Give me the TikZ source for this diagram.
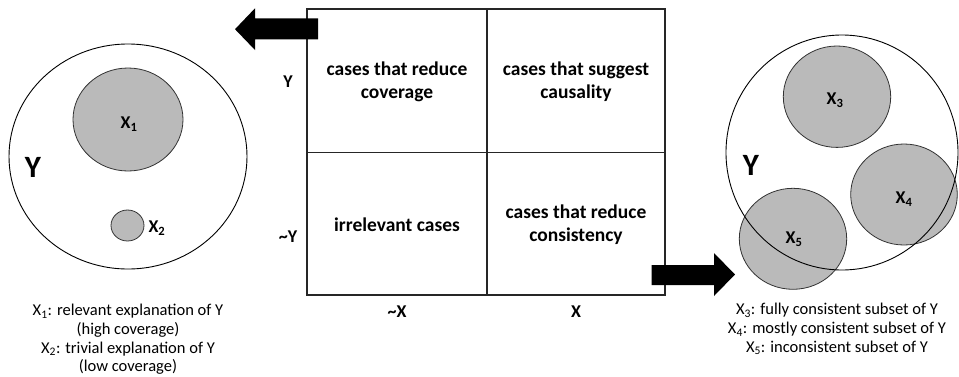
\documentclass[tikz,border=0pt]{standalone}
\usepackage{fontspec}
\setmainfont{Carlito}
\usetikzlibrary{shapes.geometric}
\tikzset{
  cell/.style={font=\bfseries\fontsize{19.5}{23}\selectfont, align=center},
  axis/.style={font=\bfseries\fontsize{18}{20}\selectfont},
  setlbl/.style={font=\bfseries\fontsize{18}{20}\selectfont},
  bigY/.style={font=\bfseries\fontsize{31}{34}\selectfont},
  caption/.style={font=\fontsize{16.5}{18.6}\selectfont, align=center},
  sub/.style={draw=black!80, line width=0.8pt, fill=black!27},
  outer/.style={draw=black, line width=0.9pt},
  blockarrow/.style={fill=black, draw=none},
  gridline/.style={draw=black!85, line width=1.2pt}
}
\begin{document}
\begin{tikzpicture}[x=1pt,y=-1pt]
\useasboundingbox (0,0) rectangle (959,376);
% grid
\draw[gridline] (307,9) rectangle (665,295);
\draw[gridline] (487,9) -- (487,295);
\draw[gridline] (307,152.5) -- (665,152.5);
\node[cell] (tl) at (397,81.5) {cases that reduce\\coverage};
\node[cell] (tr) at (576,81.5) {cases that suggest\\causality};
\node[cell] (bl) at (397,225) {irrelevant cases};
\node[cell] (br) at (576,225) {cases that reduce\\consistency};
\node[axis] (ry) at (288,82) {Y};
\node[axis] (rny) at (288,237) {\textasciitilde Y};
\node[axis] (cnx) at (397,312) {\textasciitilde X};
\node[axis] (cx) at (576,312) {X};
% arrows
\fill[blockarrow] (318,18.3) -- (255,18.3) -- (255,8.3) -- (235,29.2) -- (255,50) -- (255,39.3) -- (318,39.3) -- cycle;
\fill[blockarrow] (651.7,265) -- (714,265) -- (714,253) -- (735,274.5) -- (714,296) -- (714,285) -- (651.7,285) -- cycle;
% left diagram
\draw[outer] (128,156.5) ellipse (119 and 112.5);
\draw[sub] (128,119.5) ellipse (55 and 51.5);
\draw[sub] (127.5,225.5) ellipse (16.5 and 15.5);
\node[setlbl] (x1) at (129,124) {X\textsubscript{1}};
\node[setlbl, anchor=west] (x2) at (145,228) {X\textsubscript{2}};
\node[bigY] (ly) at (33,167) {Y};
\node[caption, anchor=north] (lcap) at (128,301) {X\textsubscript{1}: relevant explanation of Y\\(high coverage)\\X\textsubscript{2}: trivial explanation of Y\\(low coverage)};
% right diagram
\draw[sub] (837,96.7) ellipse (53.7 and 50.7);
\draw[sub] (904,194.5) ellipse (53.3 and 50.5);
\draw[sub] (793,238.8) ellipse (53.7 and 50.5);
\draw[outer] (842,152.5) ellipse (116 and 117.5);
\node[setlbl] (x3) at (835,100) {X\textsubscript{3}};
\node[setlbl] (x4) at (904,199) {X\textsubscript{4}};
\node[setlbl] (x5) at (794,239) {X\textsubscript{5}};
\node[bigY] (ry2) at (751,165) {Y};
\node[caption, anchor=north] (rcap) at (837,300) {X\textsubscript{3}: fully consistent subset of Y\\X\textsubscript{4}: mostly consistent subset of Y\\X\textsubscript{5}: inconsistent subset of Y};
\end{tikzpicture}
\end{document}
